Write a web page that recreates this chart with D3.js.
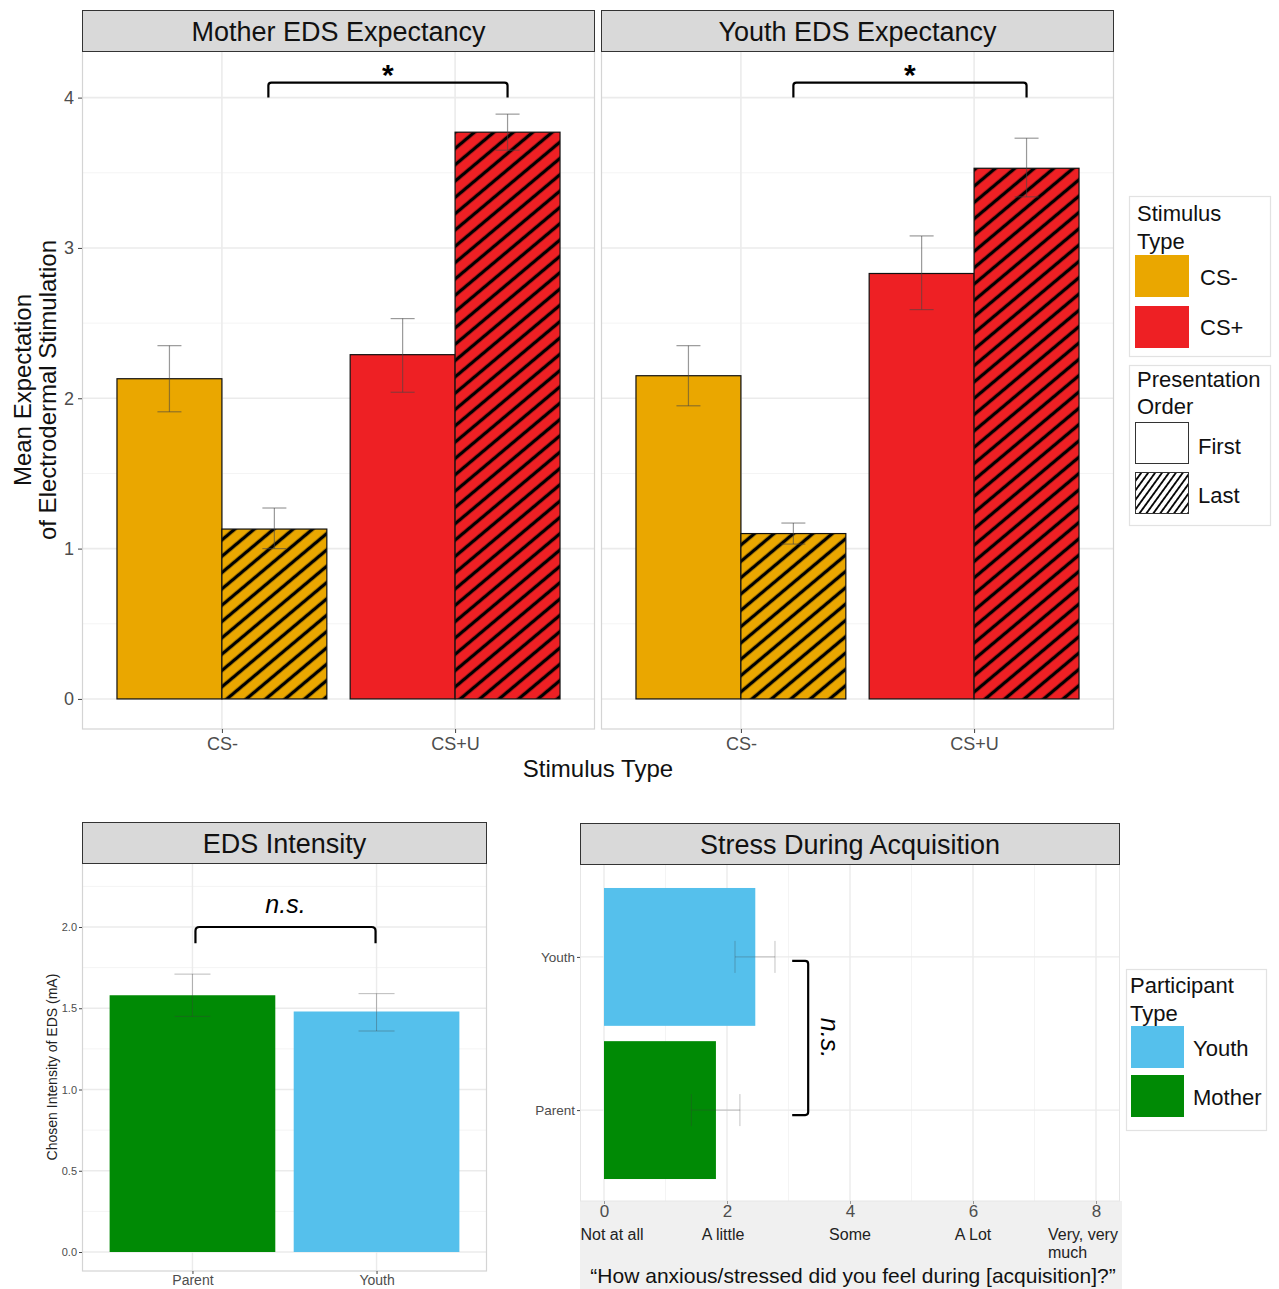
<!DOCTYPE html>
<html>
<head>
<meta charset="utf-8">
<script src="https://cdn.jsdelivr.net/npm/d3@7"></script>
<style>
  html, body { margin: 0; padding: 0; background: #ffffff; }
  svg { display: block; font-family: "Liberation Sans", Arial, Helvetica, sans-serif; }
</style>
</head>
<body>
<script>
// ---- Expectancy panels (bars ordered CS- First, CS- Last, CS+U First, CS+U Last) ----
const stimulusCats = ["CS-", "CS+U"];
const orderCats = ["First", "Last"];
const barStimulus = ["CS-", "CS-", "CS+U", "CS+U"];
const barOrder = ["First", "Last", "First", "Last"];
const motherMean = [2.13, 1.13, 2.29, 3.77];
const motherLow = [1.91, 1.00, 2.04, 3.65];
const motherHigh = [2.35, 1.27, 2.53, 3.89];
const youthMean = [2.15, 1.10, 2.83, 3.53];
const youthLow = [1.95, 1.03, 2.59, 3.34];
const youthHigh = [2.35, 1.17, 3.08, 3.73];
const expectancyTicks = [0, 1, 2, 3, 4];

// ---- EDS intensity ----
const participantCats = ["Parent", "Youth"];
const intensityMean = [1.58, 1.48];
const intensityLow = [1.45, 1.36];
const intensityHigh = [1.71, 1.59];
const intensityTicks = [0, 0.5, 1.0, 1.5, 2.0];

// ---- Stress during acquisition ----
const stressMean = [1.82, 2.46];
const stressLow = [1.42, 2.13];
const stressHigh = [2.21, 2.78];
const stressTicks = [0, 2, 4, 6, 8];
const stressTickText = ["Not at all", "A little", "Some", "A Lot", "Very, very|much"];

// ---- Colours ----
const stimColor = { "CS-": "#EAA700", "CS+U": "#EE2024" };
const participantColor = { "Parent": "#008A05", "Youth": "#55C0EC" };

const W = 1279, H = 1289;
const svg = d3.select("body").append("svg").attr("width", W).attr("height", H);
const defs = svg.append("defs");

function hatch(id, bg, spacing, angle, lw) {
  const p = defs.append("pattern").attr("id", id)
    .attr("patternUnits", "userSpaceOnUse")
    .attr("width", spacing).attr("height", spacing)
    .attr("patternTransform", `rotate(${angle})`);
  p.append("rect").attr("width", spacing).attr("height", spacing).attr("fill", bg);
  p.append("line").attr("x1", spacing / 2).attr("x2", spacing / 2)
    .attr("y1", -1).attr("y2", spacing + 1)
    .attr("stroke", "#000").attr("stroke-width", lw);
}
hatch("hatch-CS-", stimColor["CS-"], 12.5, 50, 3.4);
hatch("hatch-CS+U", stimColor["CS+U"], 12.5, 50, 3.4);
hatch("hatch-key", "#ffffff", 5.6, 36, 1.8);

const GRID_MAJOR = "#ebebeb", GRID_MINOR = "#f4f4f4", PANEL_BORDER = "#d4d4d4";
const TICK_TEXT = "#4d4d4d";
const ERR = "rgba(70,70,70,0.55)";

function strip(x0, x1, y0, y1, label) {
  svg.append("rect").attr("x", x0 + 0.5).attr("y", y0 + 0.5)
    .attr("width", x1 - x0 - 1).attr("height", y1 - y0)
    .attr("fill", "#d9d9d9").attr("stroke", "#333").attr("stroke-width", 1);
  svg.append("text").attr("x", (x0 + x1) / 2).attr("y", (y0 + y1) / 2 + 1)
    .attr("text-anchor", "middle").attr("dominant-baseline", "central")
    .attr("font-size", 27).attr("fill", "#111").text(label);
}

function styleAxis(g, size) {
  g.select(".domain").remove();
  g.selectAll(".tick line").attr("stroke", "#444");
  g.selectAll(".tick text").attr("fill", TICK_TEXT).attr("font-size", size)
    .attr("font-family", "Liberation Sans, Arial, sans-serif");
}

// ================= Expectancy panels =================
const topY = d3.scaleLinear().domain([-0.2, 4.31]).range([729, 51]);

function expectancyPanel(x0, x1, title, mean, low, high, showY, bracketDx) {
  const xs = d3.scalePoint().domain(stimulusCats).range([x0, x1]).padding(0.6);
  const step = xs.step();
  const half = 0.45 * step;
  const [yb, yt] = topY.range();
  const g = svg.append("g");

  // grid
  d3.range(0.5, 4.31, 1).forEach(v => g.append("line")
    .attr("x1", x0).attr("x2", x1).attr("y1", topY(v)).attr("y2", topY(v))
    .attr("stroke", GRID_MINOR).attr("stroke-width", 1));
  expectancyTicks.forEach(v => g.append("line")
    .attr("x1", x0).attr("x2", x1).attr("y1", topY(v)).attr("y2", topY(v))
    .attr("stroke", GRID_MAJOR).attr("stroke-width", 1.6));
  stimulusCats.forEach(c => g.append("line")
    .attr("x1", xs(c)).attr("x2", xs(c)).attr("y1", yt).attr("y2", yb)
    .attr("stroke", GRID_MAJOR).attr("stroke-width", 1.6));

  // bars
  const bars = mean.map((m, i) => ({ m, lo: low[i], hi: high[i], s: barStimulus[i], o: barOrder[i] }));
  const bx = d => d.o === "First" ? xs(d.s) - half : xs(d.s);
  g.selectAll("rect.bar").data(bars).enter().append("rect")
    .attr("x", bx).attr("width", half)
    .attr("y", d => topY(d.m)).attr("height", d => topY(0) - topY(d.m))
    .attr("fill", d => d.o === "First" ? stimColor[d.s] : `url(#hatch-${d.s})`)
    .attr("stroke", "#111").attr("stroke-width", 1.2);

  // error bars
  const cap = 12;
  bars.forEach(d => {
    const cx = bx(d) + half / 2;
    g.append("line").attr("x1", cx).attr("x2", cx).attr("y1", topY(d.lo)).attr("y2", topY(d.hi))
      .attr("stroke", ERR).attr("stroke-width", 1.2);
    [d.lo, d.hi].forEach(v => g.append("line").attr("x1", cx - cap).attr("x2", cx + cap)
      .attr("y1", topY(v)).attr("y2", topY(v)).attr("stroke", ERR).attr("stroke-width", 1.2));
  });

  // significance bracket
  const bl = xs("CS-") + half / 2 + bracketDx, br = xs("CS+U") + half / 2;
  g.append("path")
    .attr("d", `M${bl},${topY(4.0)} L${bl},${topY(4.1) + 3} Q${bl},${topY(4.1)} ${bl + 3},${topY(4.1)} L${br - 3},${topY(4.1)} Q${br},${topY(4.1)} ${br},${topY(4.1) + 3} L${br},${topY(4.0)}`)
    .attr("fill", "none").attr("stroke", "#000").attr("stroke-width", 2.2);
  g.append("text").attr("x", (bl + br) / 2).attr("y", topY(4.1) + 2)
    .attr("text-anchor", "middle").attr("font-size", 30).attr("font-weight", "bold").text("*");

  // border
  g.append("rect").attr("x", x0 + 0.5).attr("y", yt).attr("width", x1 - x0 - 1).attr("height", yb - yt)
    .attr("fill", "none").attr("stroke", PANEL_BORDER).attr("stroke-width", 1.2);

  // x axis
  const ax = g.append("g").attr("transform", `translate(0,${yb})`)
    .call(d3.axisBottom(xs).tickSize(4).tickPadding(4));
  styleAxis(ax, 18);

  if (showY) {
    const ay = g.append("g").attr("transform", `translate(${x0},0)`)
      .call(d3.axisLeft(topY).tickValues(expectancyTicks).tickFormat(d3.format("d")).tickSize(4).tickPadding(4));
    styleAxis(ay, 18);
  }
  strip(x0, x1, 10, 51, title);
}

expectancyPanel(82, 595, "Mother EDS Expectancy", motherMean, motherLow, motherHigh, true, -6);
expectancyPanel(601, 1114, "Youth EDS Expectancy", youthMean, youthLow, youthHigh, false, 0);

// shared axis titles
svg.append("text").attr("transform", "translate(22,390) rotate(-90)")
  .attr("text-anchor", "middle").attr("dominant-baseline", "central")
  .attr("font-size", 24).attr("fill", "#111").text("Mean Expectation");
svg.append("text").attr("transform", "translate(47,390) rotate(-90)")
  .attr("text-anchor", "middle").attr("dominant-baseline", "central")
  .attr("font-size", 24).attr("fill", "#111").text("of Electrodermal Stimulation");
svg.append("text").attr("x", 598).attr("y", 768)
  .attr("text-anchor", "middle").attr("dominant-baseline", "central")
  .attr("font-size", 24).attr("fill", "#111").text("Stimulus Type");

// legends (top)
function legendBox(x, y, w, h) {
  svg.append("rect").attr("x", x + 0.5).attr("y", y + 0.5).attr("width", w).attr("height", h)
    .attr("fill", "#fff").attr("stroke", "#e2e2e2").attr("stroke-width", 1.2);
}
function legendText(x, y, t, size) {
  svg.append("text").attr("x", x).attr("y", y).attr("dominant-baseline", "central")
    .attr("font-size", size).attr("fill", "#111").text(t);
}
legendBox(1129, 196, 141, 160);
legendText(1137, 213, "Stimulus", 22);
legendText(1137, 241, "Type", 22);
[["CS-", stimColor["CS-"]], ["CS+", stimColor["CS+U"]]].forEach(([lab, col], i) => {
  svg.append("rect").attr("x", 1135).attr("y", 255 + i * 51).attr("width", 54).attr("height", 42).attr("fill", col);
  legendText(1200, 277 + i * 50, lab, 22);
});
legendBox(1129, 365, 141, 160);
legendText(1137, 379, "Presentation", 22);
legendText(1137, 406, "Order", 22);
orderCats.forEach((lab, i) => {
  svg.append("rect").attr("x", 1135.5).attr("y", 422.5 + i * 50).attr("width", 53).attr("height", 41)
    .attr("fill", i === 0 ? "#fff" : "url(#hatch-key)").attr("stroke", "#333").attr("stroke-width", 1);
  legendText(1198, 446 + i * 49, lab, 22);
});

// ================= EDS intensity =================
(function () {
  const x0 = 82, x1 = 487, yt = 863, yb = 1271;
  const y = d3.scaleLinear().domain([0, 2]).range([1252, 927]);
  const xs = d3.scalePoint().domain(participantCats).range([x0, x1]).padding(0.6);
  const half = 0.45 * xs.step();
  const g = svg.append("g");
  d3.range(0.25, 2.4, 0.5).forEach(v => g.append("line")
    .attr("x1", x0).attr("x2", x1).attr("y1", y(v)).attr("y2", y(v)).attr("stroke", GRID_MINOR));
  intensityTicks.forEach(v => g.append("line")
    .attr("x1", x0).attr("x2", x1).attr("y1", y(v)).attr("y2", y(v)).attr("stroke", GRID_MAJOR).attr("stroke-width", 1.4));
  participantCats.forEach(c => g.append("line")
    .attr("x1", xs(c)).attr("x2", xs(c)).attr("y1", yt).attr("y2", yb).attr("stroke", GRID_MAJOR).attr("stroke-width", 1.4));

  participantCats.forEach((c, i) => {
    g.append("rect").attr("x", xs(c) - half).attr("width", 2 * half)
      .attr("y", y(intensityMean[i])).attr("height", y(0) - y(intensityMean[i]))
      .attr("fill", participantColor[c]);
    const cx = xs(c);
    g.append("line").attr("x1", cx).attr("x2", cx).attr("y1", y(intensityLow[i])).attr("y2", y(intensityHigh[i]))
      .attr("stroke", "rgba(60,60,60,0.35)");
    [intensityLow[i], intensityHigh[i]].forEach(v => g.append("line")
      .attr("x1", cx - 18).attr("x2", cx + 18).attr("y1", y(v)).attr("y2", y(v))
      .attr("stroke", "rgba(60,60,60,0.35)"));
  });

  // bracket
  const bl = xs("Parent") + 3, br = xs("Youth") - 1;
  g.append("path")
    .attr("d", `M${bl},${y(1.9)} L${bl},${y(2.0) + 4} Q${bl},${y(2.0)} ${bl + 4},${y(2.0)} L${br - 4},${y(2.0)} Q${br},${y(2.0)} ${br},${y(2.0) + 4} L${br},${y(1.9)}`)
    .attr("fill", "none").attr("stroke", "#000").attr("stroke-width", 2.2);
  g.append("text").attr("x", (bl + br) / 2).attr("y", y(2.14)).attr("text-anchor", "middle")
    .attr("dominant-baseline", "central").attr("font-size", 25).attr("font-style", "italic").text("n.s.");

  g.append("rect").attr("x", x0 + 0.5).attr("y", yt).attr("width", x1 - x0 - 1).attr("height", yb - yt)
    .attr("fill", "none").attr("stroke", PANEL_BORDER).attr("stroke-width", 1.2);

  const ax = g.append("g").attr("transform", `translate(0,${yb})`)
    .call(d3.axisBottom(xs).tickSize(3).tickPadding(1));
  styleAxis(ax, 14);
  const ay = g.append("g").attr("transform", `translate(${x0},0)`)
    .call(d3.axisLeft(y).tickValues(intensityTicks).tickFormat(d3.format(".1f")).tickSize(3).tickPadding(2));
  styleAxis(ay, 11);
  svg.append("text").attr("transform", "translate(52,1067) rotate(-90)")
    .attr("text-anchor", "middle").attr("dominant-baseline", "central")
    .attr("font-size", 14).attr("fill", "#222").text("Chosen Intensity of EDS (mA)");
  strip(x0, x1, 822, 863, "EDS Intensity");
})();

// ================= Stress during acquisition =================
(function () {
  const x0 = 580, x1 = 1120, yt = 864, yb = 1201;
  const x = d3.scaleLinear().domain([0, 8]).range([604, 1096]);
  const ys = d3.scalePoint().domain(participantCats).range([1202, 865]).padding(0.6);
  const half = 0.45 * ys.step();

  // grey band under the panel holding the axis annotation (drawn first, behind the axis)
  svg.append("rect").attr("x", x0).attr("y", yb).attr("width", x1 - x0 + 2).attr("height", H - yb)
    .attr("fill", "#f0f0f0");

  const g = svg.append("g");

  d3.range(1, 8, 2).forEach(v => g.append("line")
    .attr("x1", x(v)).attr("x2", x(v)).attr("y1", yt).attr("y2", yb).attr("stroke", GRID_MINOR));
  stressTicks.forEach(v => g.append("line")
    .attr("x1", x(v)).attr("x2", x(v)).attr("y1", yt).attr("y2", yb).attr("stroke", GRID_MAJOR).attr("stroke-width", 1.4));
  participantCats.forEach(c => g.append("line")
    .attr("x1", x0).attr("x2", x1).attr("y1", ys(c)).attr("y2", ys(c)).attr("stroke", GRID_MAJOR).attr("stroke-width", 1.4));

  participantCats.forEach((c, i) => {
    g.append("rect").attr("x", x(0)).attr("width", x(stressMean[i]) - x(0))
      .attr("y", ys(c) - half).attr("height", 2 * half)
      .attr("fill", participantColor[c]);
    const cy = ys(c);
    g.append("line").attr("x1", x(stressLow[i])).attr("x2", x(stressHigh[i])).attr("y1", cy).attr("y2", cy)
      .attr("stroke", "rgba(60,60,60,0.3)");
    [stressLow[i], stressHigh[i]].forEach(v => g.append("line")
      .attr("x1", x(v)).attr("x2", x(v)).attr("y1", cy - 16).attr("y2", cy + 16)
      .attr("stroke", "rgba(60,60,60,0.3)"));
  });

  // bracket
  const bt = ys("Youth") + 4, bb = ys("Parent") + 5, bxL = x(3.06), bxR = x(3.32);
  g.append("path")
    .attr("d", `M${bxL},${bt} L${bxR - 3},${bt} Q${bxR},${bt} ${bxR},${bt + 3} L${bxR},${bb - 3} Q${bxR},${bb} ${bxR - 3},${bb} L${bxL},${bb}`)
    .attr("fill", "none").attr("stroke", "#000").attr("stroke-width", 2.2);
  g.append("text").attr("transform", `translate(${x(3.68)},${(bt + bb) / 2}) rotate(90)`)
    .attr("text-anchor", "middle").attr("dominant-baseline", "central")
    .attr("font-size", 25).attr("font-style", "italic").text("n.s.");

  g.append("rect").attr("x", x0 + 0.5).attr("y", yt).attr("width", x1 - x0 - 1).attr("height", yb - yt)
    .attr("fill", "none").attr("stroke", "#e6e6e6").attr("stroke-width", 1);

  const ax = g.append("g").attr("transform", `translate(0,${yb})`)
    .call(d3.axisBottom(x).tickValues(stressTicks).tickFormat(d3.format("d")).tickSize(3).tickPadding(1));
  styleAxis(ax, 17);
  ax.selectAll(".tick line").attr("stroke", "#999");
  const ay = g.append("g").attr("transform", `translate(${x0},0)`)
    .call(d3.axisLeft(ys).tickSize(3).tickPadding(2));
  styleAxis(ay, 13.5);

  // verbal anchors for the rating scale
  const anchorDx = [8, -4, 0, 0, -48];
  stressTicks.forEach((v, i) => {
    const lines = stressTickText[i].split("|");
    const t = svg.append("text").attr("x", x(v) + anchorDx[i]).attr("y", 1234)
      .attr("text-anchor", lines.length > 1 ? "start" : "middle")
      .attr("dominant-baseline", "central").attr("font-size", 16).attr("fill", "#222");
    lines.forEach((l, j) => t.append("tspan").attr("x", x(v) + anchorDx[i]).attr("dy", j === 0 ? 0 : 18).text(l));
  });
  svg.append("text").attr("x", 853).attr("y", 1275).attr("text-anchor", "middle")
    .attr("dominant-baseline", "central").attr("font-size", 21).attr("fill", "#111")
    .text("\u201CHow anxious/stressed did you feel during [acquisition]?\u201D");

  strip(x0, x1, 823, 864, "Stress During Acquisition");

  // legend
  legendBox(1126, 969, 140, 161);
  legendText(1130, 985, "Participant", 22);
  legendText(1130, 1013, "Type", 22);
  [["Youth", participantColor["Youth"]], ["Mother", participantColor["Parent"]]].forEach(([lab, col], i) => {
    svg.append("rect").attr("x", 1131).attr("y", 1026 + i * 49).attr("width", 53).attr("height", 42).attr("fill", col);
    legendText(1193, 1048 + i * 49, lab, 22);
  });
})();
</script>
</body>
</html>
